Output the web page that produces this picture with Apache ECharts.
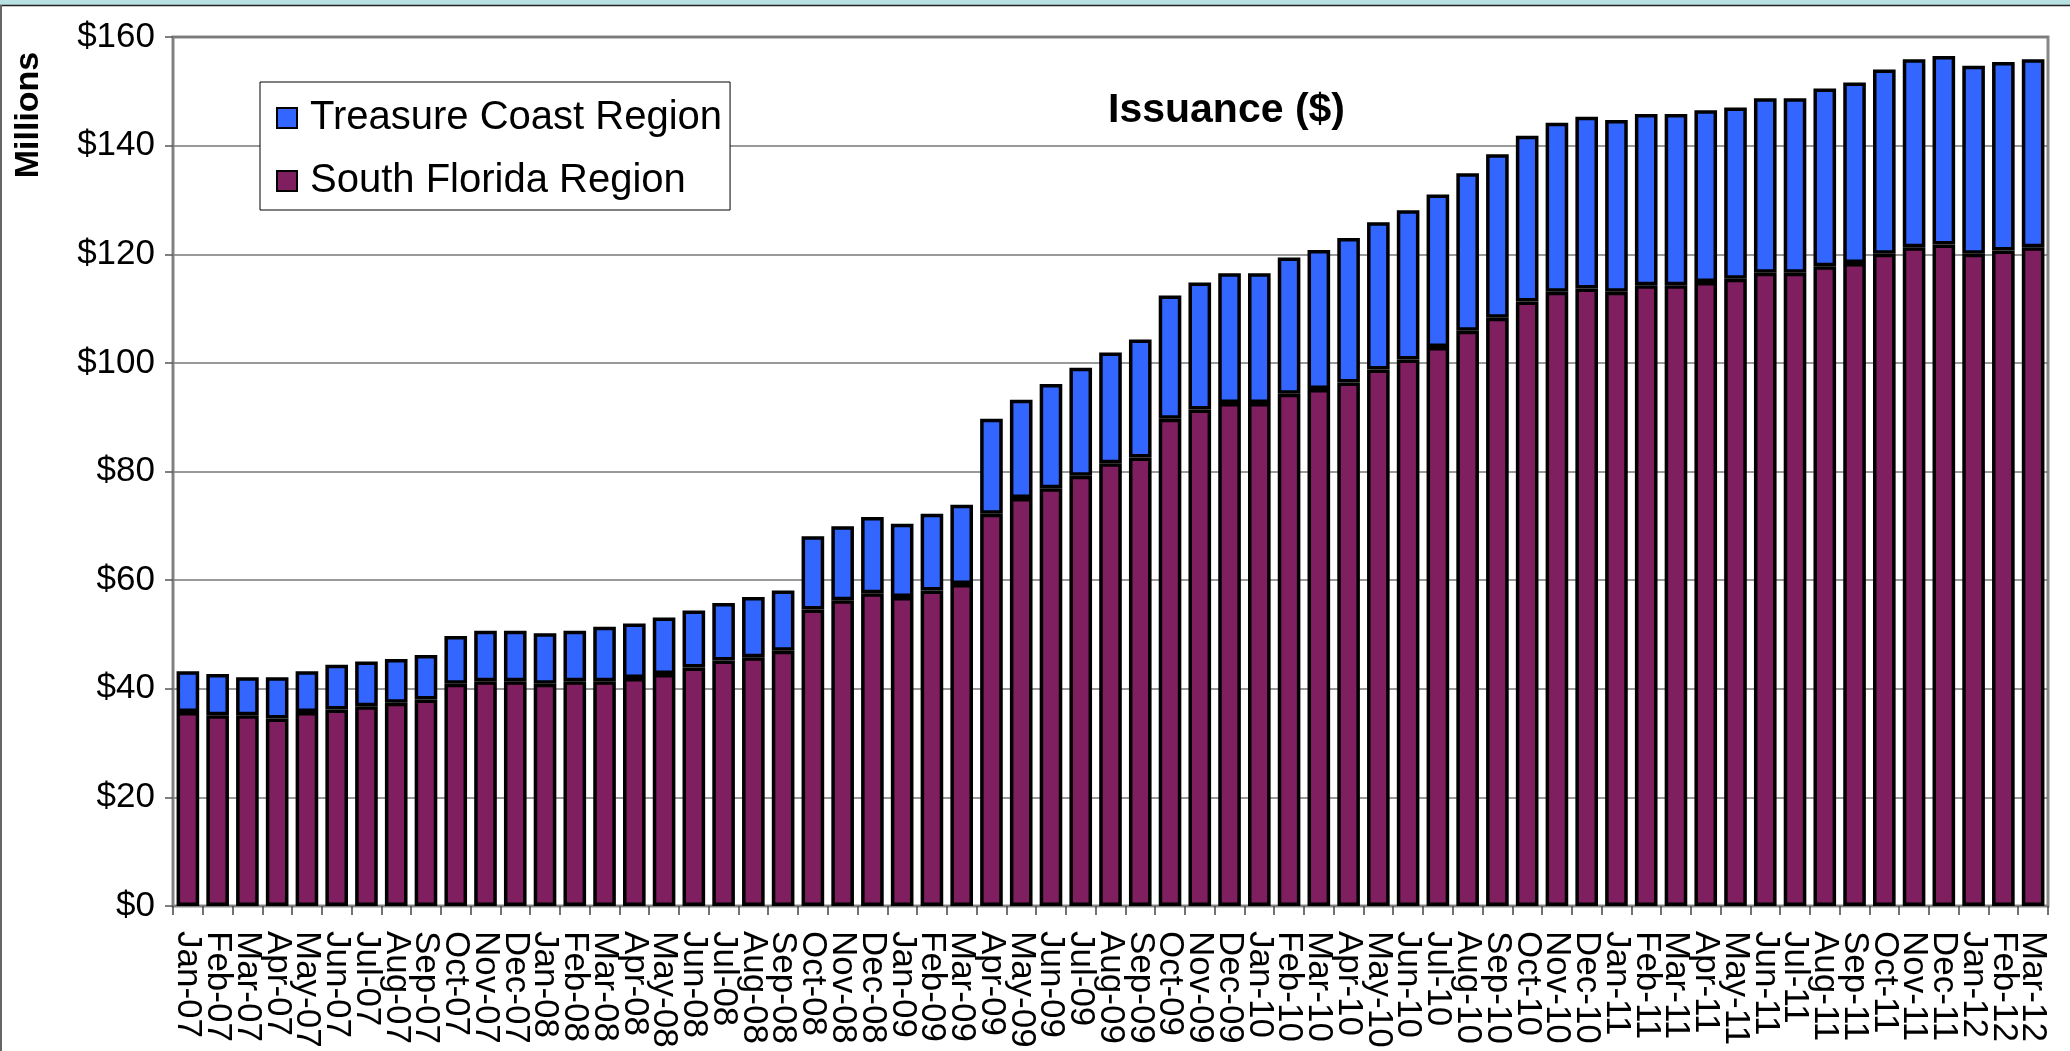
<!DOCTYPE html>
<html>
<head>
<meta charset="utf-8">
<title>Issuance ($)</title>
<script src="https://cdn.jsdelivr.net/npm/echarts@6/dist/echarts.min.js"></script>
<style>
  html, body { margin: 0; padding: 0; background: #fff; }
  #chart { width: 2070px; height: 1051px; }
</style>
</head>
<body>
<div id="chart"></div>
<script>
// months on the x axis
var months = [
  'Jan-07','Feb-07','Mar-07','Apr-07','May-07','Jun-07','Jul-07','Aug-07','Sep-07','Oct-07','Nov-07','Dec-07',
  'Jan-08','Feb-08','Mar-08','Apr-08','May-08','Jun-08','Jul-08','Aug-08','Sep-08','Oct-08','Nov-08','Dec-08',
  'Jan-09','Feb-09','Mar-09','Apr-09','May-09','Jun-09','Jul-09','Aug-09','Sep-09','Oct-09','Nov-09','Dec-09',
  'Jan-10','Feb-10','Mar-10','Apr-10','May-10','Jun-10','Jul-10','Aug-10','Sep-10','Oct-10','Nov-10','Dec-10',
  'Jan-11','Feb-11','Mar-11','Apr-11','May-11','Jun-11','Jul-11','Aug-11','Sep-11','Oct-11','Nov-11','Dec-11',
  'Jan-12','Feb-12','Mar-12'
];
// South Florida Region ($ millions, bottom of stack)
var southFlorida = [
  35.7, 35.1, 35.1, 34.5, 35.7, 36.2, 36.8, 37.4, 38.0, 40.9, 41.4, 41.4,
  40.9, 41.4, 41.4, 42.0, 42.7, 43.9, 45.2, 45.8, 47.0, 54.6, 56.3, 57.6,
  56.9, 58.1, 59.3, 72.2, 75.1, 76.9, 79.2, 81.5, 82.6, 89.7, 91.4, 92.6,
  92.6, 94.3, 95.2, 96.4, 98.8, 100.6, 102.9, 105.9, 108.3, 111.3, 113.1, 113.7,
  113.1, 114.3, 114.3, 114.9, 115.5, 116.6, 116.6, 117.8, 118.4, 120.1, 121.3, 121.8,
  120.1, 120.7, 121.3
];
// Treasure Coast Region ($ millions, top of stack)
var treasureCoast = [
  7.5, 7.6, 7.0, 7.6, 7.5, 8.2, 8.2, 8.1, 8.2, 8.8, 9.3, 9.3,
  9.3, 9.3, 10.0, 10.0, 10.4, 10.5, 10.6, 11.1, 11.1, 13.5, 13.6, 14.0,
  13.5, 14.1, 14.6, 17.5, 18.1, 19.2, 19.9, 20.4, 21.7, 22.7, 23.4, 23.9,
  23.9, 25.1, 25.6, 26.6, 27.1, 27.5, 28.1, 29.0, 30.1, 30.5, 31.1, 31.6,
  31.6, 31.5, 31.5, 31.6, 31.5, 32.1, 32.1, 32.7, 33.2, 33.9, 34.6, 34.7,
  34.6, 34.7, 34.6
];
var yMin = 0, yMax = 160, yStep = 20;

var font = 'Arial, "Liberation Sans", sans-serif';
var myChart = echarts.init(document.getElementById('chart'));

var option = {
  animation: false,
  backgroundColor: '#fff',
  title: {
    text: 'Issuance ($)',
    left: 1108,
    top: 90,
    padding: 0,
    textStyle: { fontFamily: font, fontSize: 41, fontWeight: 'bold', color: '#000' }
  },
  legend: {
    orient: 'vertical',
    left: 260,
    top: 82,
    padding: [16, 8, 9, 16],
    itemWidth: 20,
    itemHeight: 20,
    itemGap: 23,
    icon: 'rect',
    backgroundColor: '#fff',
    borderColor: '#000',
    borderWidth: 1,
    data: ['Treasure Coast Region', 'South Florida Region'],
    textStyle: { fontFamily: font, fontSize: 40, color: '#000', padding: [0, 0, 0, 8] }
  },
  grid: {
    left: 173, right: 22, top: 37, bottom: 145,
    show: true, borderColor: '#888', borderWidth: 3, backgroundColor: '#fff'
  },
  xAxis: {
    type: 'category',
    data: months,
    axisLine: { lineStyle: { color: '#808080', width: 2 } },
    axisTick: { show: true, length: 9, lineStyle: { color: '#444', width: 1.5 } },
    axisLabel: {
      interval: 0, rotate: -90, margin: 25,
      fontFamily: font, fontSize: 35, color: '#000'
    }
  },
  yAxis: {
    type: 'value',
    min: yMin, max: yMax, interval: yStep,
    axisLine: { show: true, lineStyle: { color: '#808080', width: 2 } },
    axisTick: { show: true, length: 8, lineStyle: { color: '#555', width: 1.5 } },
    axisLabel: {
      margin: 18, fontFamily: font, fontSize: 35, color: '#000',
      formatter: function (v) { return '$' + v; }
    },
    splitLine: { lineStyle: { color: '#777', width: 1.5 } }
  },
  graphic: [
    { type: 'rect', shape: { x: 0, y: 0, width: 2070, height: 5 }, style: { fill: '#b9e0e2' } },
    { type: 'line', shape: { x1: 0, y1: 5.5, x2: 2070, y2: 5.5 }, style: { stroke: '#222', lineWidth: 1.5 } },
    { type: 'line', shape: { x1: 1, y1: 5, x2: 1, y2: 1051 }, style: { stroke: '#666', lineWidth: 2 } },
    {
      type: 'text', x: 29, y: 115, rotation: Math.PI / 2,
      style: {
        text: 'Millions', fontFamily: font, fontSize: 34, fontWeight: 'bold',
        fill: '#000', textAlign: 'center', textVerticalAlign: 'middle'
      }
    }
  ],
  series: [
    {
      name: 'South Florida Region',
      type: 'bar',
      stack: 'issuance',
      data: southFlorida,
      barCategoryGap: '24%',
      itemStyle: { color: '#7f1f5f', borderColor: '#000', borderWidth: 3.5 }
    },
    {
      name: 'Treasure Coast Region',
      type: 'bar',
      stack: 'issuance',
      data: treasureCoast,
      barCategoryGap: '24%',
      itemStyle: { color: '#3366ff', borderColor: '#000', borderWidth: 3.5 }
    }
  ]
};

myChart.setOption(option);
</script>
</body>
</html>
